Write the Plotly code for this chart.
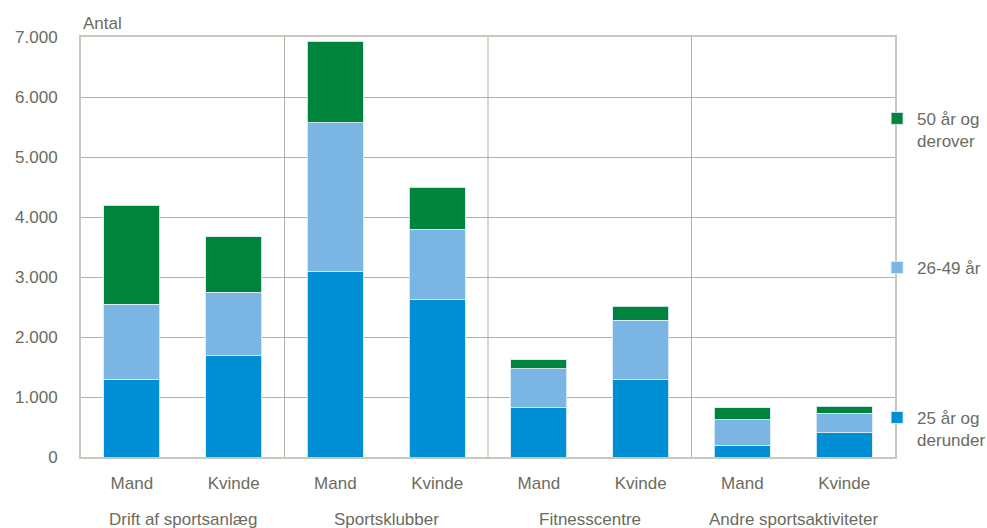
import plotly.graph_objects as go

groups = ["Drift af sportsanlæg", "Sportsklubber", "Fitnesscentre", "Andre sportsaktiviteter"]
genders = ["Mand", "Kvinde"]
series_names = ["25 år og<br>derunder", "26-49 år", "50 år og<br>derover"]
# values per bar in order: group1 Mand, group1 Kvinde, group2 Mand, ...
v_25_under = [1300, 1690, 3090, 2620, 820, 1290, 195, 405]
v_26_49 = [1245, 1060, 2480, 1180, 650, 990, 425, 325]
v_50_over = [1655, 920, 1360, 700, 150, 235, 200, 120]
y_ticks = [0, 1000, 2000, 3000, 4000, 5000, 6000, 7000]
y_ticktext = ["0", "1.000", "2.000", "3.000", "4.000", "5.000", "6.000", "7.000"]

colors = ["#008FD5", "#7AB5E4", "#00843D"]
text_color = "#6B6B5E"
grid_color = "#B3B1A4"
font_family = "Liberation Sans, Arial, sans-serif"

n_bars = len(groups) * len(genders)
x_pos = list(range(n_bars))
tick_labels = [genders[i % 2] for i in range(n_bars)]

legend_ids = ["legend3", "legend2", "legend"]
legend_y = {"legend": 0.848, "legend2": 0.493, "legend3": 0.136}

fig = go.Figure()
for name, vals, col, lid in zip(series_names, [v_25_under, v_26_49, v_50_over], colors, legend_ids):
    fig.add_trace(go.Bar(
        x=x_pos, y=vals, name=name, width=0.55,
        marker=dict(color=col, line=dict(color="rgba(220,235,245,0.9)", width=1)),
        legend=lid,
    ))

# group divider lines
for k in range(1, len(groups)):
    xd = 2 * k - 0.5
    fig.add_shape(type="line", xref="x", yref="paper", x0=xd, x1=xd, y0=0, y1=1,
                  line=dict(color=grid_color, width=1), layer="below")

# group labels
for gi, g in enumerate(groups):
    fig.add_annotation(x=2 * gi + 0.5, xref="x", y=0, yref="paper", yshift=-62,
                       text=g, showarrow=False, yanchor="middle",
                       font=dict(size=17, color=text_color, family=font_family))

fig.add_annotation(x=0, xref="paper", y=1, yref="paper", yshift=14, xshift=0,
                   text="Antal", showarrow=False, xanchor="left", yanchor="middle",
                   font=dict(size=17, color=text_color, family=font_family))

def legend_cfg(yv):
    return dict(x=0.978, xanchor="left", y=yv, yanchor="top", valign="top",
                font=dict(size=17, color=text_color, family=font_family),
                bgcolor="rgba(0,0,0,0)", itemwidth=30)

fig.update_layout(
    barmode="stack",
    width=987, height=528,
    margin=dict(l=81, r=92, t=37, b=71, autoexpand=False),
    paper_bgcolor="white", plot_bgcolor="white",
    font=dict(family=font_family, size=17, color=text_color),
    showlegend=True,
    legend=legend_cfg(legend_y["legend"]),
    legend2=legend_cfg(legend_y["legend2"]),
    legend3=legend_cfg(legend_y["legend3"]),
    xaxis=dict(range=[-0.5, n_bars - 0.5], tickvals=x_pos, ticktext=tick_labels,
               showgrid=False, showline=True, linecolor="#C9C8BD", linewidth=2,
               mirror=True, ticks="", ticklen=0, zeroline=False,
               ticklabelstandoff=10,
               tickfont=dict(size=17, color=text_color)),
    yaxis=dict(range=[0, 7000], tickvals=y_ticks, ticktext=y_ticktext,
               showgrid=True, gridcolor=grid_color, gridwidth=1,
               showline=True, linecolor="#C9C8BD", linewidth=2, mirror=True,
               zeroline=False, ticks="", ticklabelstandoff=18,
               tickfont=dict(size=17, color=text_color)),
    bargap=0.45,
)

fig.write_html("out.html", config={"displayModeBar": False},
               post_script="document.body.style.margin='0';")
